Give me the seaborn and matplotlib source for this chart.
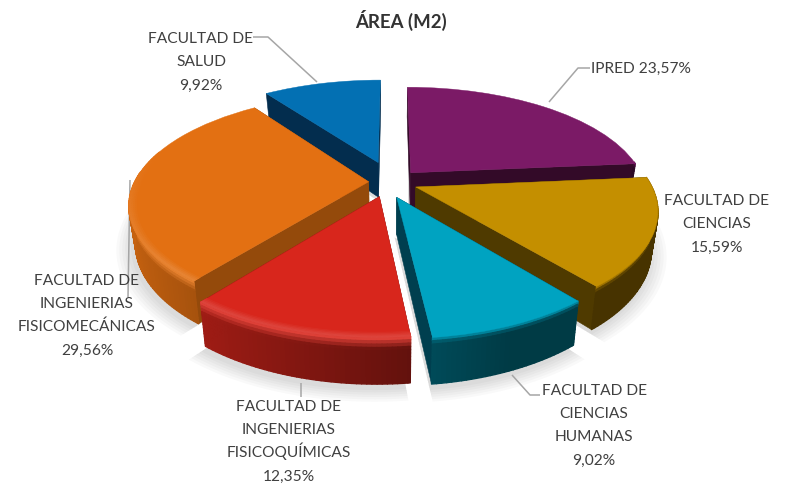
"""Área (m2) por facultad: torta 3D separada, hecha con ax.pie y una proyección en perspectiva."""
import matplotlib

matplotlib.use("Agg")
import matplotlib.pyplot as plt
import numpy as np
import seaborn as sns
from matplotlib.collections import PolyCollection
from matplotlib.patches import Polygon
from matplotlib.transforms import Transform

TITLE = "ÁREA (M2)"
NAMES = ["IPRED", "FACULTAD DE\nCIENCIAS", "FACULTAD DE\nCIENCIAS\nHUMANAS",
         "FACULTAD DE\nINGENIERIAS\nFISICOQUÍMICAS", "FACULTAD DE\nINGENIERIAS\nFISICOMECÁNICAS",
         "FACULTAD DE\nSALUD"]
VALUES = [23.57, 15.59, 9.02, 12.35, 29.56, 9.92]
TOP_COLORS = ["#7B1A66", "#C48F00", "#00A3C1", "#D8261C", "#E37012", "#0370B3"]
CUT_COLORS = ["#330A28", "#4F3A00", "#003F4F", "#7A1210", "#944A0B", "#032D4E"]
EXPLODE = [0.12, 0.12, 0.12, 0.15, 0.10, 0.20]
GLOW = [0, 0, 0, 1, 1, 0]
# ajuste fino del centro de cada porción, en el plano de la torta
NUDGE_X = [0, -0.01, -0.027, -0.012, 0, 0]
NUDGE_Y = [0, 0, -0.03, 0.01, 0, 0]

# orden de pintado: de atrás hacia adelante
PAINT_ORDER = [0, 5, 4, 1, 2, 3]

CX, CY = 392, 182
RX, KY = 234, 106
PERSP = 0.20
DEPTH = 36

sns.set_theme(style="white")
plt.rcParams["font.family"] = ["Lato", "DejaVu Sans"]


def project(x, y, t=0.0):
    """x, y en el plano de la torta, t = fracción de profundidad (0 arriba, 1 abajo)."""
    x, y = np.asarray(x, float), np.asarray(y, float)
    v = -y
    s = 1 / (1 - PERSP * v)
    return CX + RX * x * s * (1 - 0.025 * t), CY + KY * v * s + DEPTH * s * t


class PieProjection(Transform):
    input_dims = output_dims = 2
    is_affine = False

    def transform_non_affine(self, values):
        px, py = project(values[:, 0], values[:, 1])
        return np.column_stack([px, py])


def scaled(hex_color, f):
    rgb = np.array(matplotlib.colors.to_rgb(hex_color)) * f
    return np.clip(rgb, 0, 1)


def lighter(hex_color, f):
    rgb = np.array(matplotlib.colors.to_rgb(hex_color))
    return rgb + (1 - rgb) * f


def rim_factor(phi):
    return np.clip(0.5 - 0.38 * np.cos(np.radians(phi)), 0.36, 0.9)


def draw_slice(ax, wedge, top, cut, glow_on, z):
    x0, y0 = wedge.center
    phis = np.arange(wedge.theta1, wedge.theta2 + 1.0, 1.0)
    phis[-1] = wedge.theta2
    ang = np.radians(phis)
    ex, ey = x0 + np.cos(ang), y0 + np.sin(ang)

    # caras de corte
    for i in (0, -1):
        a = np.column_stack(project([x0, ex[i]], [y0, ey[i]], 0))
        b = np.column_stack(project([ex[i], x0], [ey[i], y0], 1))
        ax.add_patch(Polygon(np.vstack([a, b]), facecolor=cut, edgecolor=cut, lw=0.4, zorder=z))

    # borde exterior con degradado (solo la parte que mira al frente)
    rows = np.linspace(0, 1, 15)
    polys, cols = [], []
    for j in range(len(rows) - 1):
        for i in range(len(phis) - 1):
            if np.sin(ang[i]) > 0.1:
                continue
            p1 = project(ex[i:i + 2], ey[i:i + 2], rows[j])
            p2 = project(ex[i:i + 2][::-1], ey[i:i + 2][::-1], rows[j + 1])
            polys.append(np.column_stack([np.r_[p1[0], p2[0]], np.r_[p1[1], p2[1]]]))
            base = scaled(top, rim_factor(phis[i]))
            glow = glow_on * max(0.0, min(1.0, 0.3 - np.sin(ang[i])))
            high = lighter(top, 0.12 * glow) if glow_on else scaled(top, 0.8)
            w = min(1.0, rows[j] / (0.22 if glow_on else 0.1))
            cols.append(high * (1 - w) + base * w)
    if polys:
        ax.add_collection(PolyCollection(polys, facecolors=cols, edgecolors=cols, linewidths=1.0, zorder=z + 1))

    wedge.set_transform(PieProjection() + ax.transData)
    wedge.set_facecolor(top)
    wedge.set_edgecolor(top)
    wedge.set_linewidth(0.3)
    wedge.set_zorder(z + 2)

    # brillo del bisel sobre la cara superior
    if not glow_on:
        return
    radii = np.linspace(0.97, 1.0, 5)
    polys, cols = [], []
    for j in range(len(radii) - 1):
        for i in range(len(phis) - 1):
            glow = max(0.0, min(1.0, 0.3 - np.sin(ang[i])))
            if glow <= 0:
                continue
            c, s = np.cos(ang[i:i + 2]), np.sin(ang[i:i + 2])
            p1 = project(x0 + radii[j] * c, y0 + radii[j] * s)
            p2 = project(x0 + radii[j + 1] * c[::-1], y0 + radii[j + 1] * s[::-1])
            polys.append(np.column_stack([np.r_[p1[0], p2[0]], np.r_[p1[1], p2[1]]]))
            cols.append(lighter(top, 0.14 * glow * (j + 1) / (len(radii) - 1)))
    ax.add_collection(PolyCollection(polys, facecolors=cols, edgecolors=cols, linewidths=0.6, zorder=z + 3))


def draw_shadow(ax, wedge):
    x0, y0 = wedge.center
    phi = np.radians(np.arange(wedge.theta1, wedge.theta2 + 1.0, 2.0))
    for i in range(1, 7):
        grow = 1 + 0.012 * i
        xs = np.r_[x0, x0 + grow * np.cos(phi)]
        ys = np.r_[y0, y0 + grow * np.sin(phi)]
        px, py = project(xs, ys, 1.08)
        ax.add_patch(Polygon(np.column_stack([px - 2, py]), facecolor="#000000", alpha=0.022, lw=0, zorder=1))


fig, ax = plt.subplots(figsize=(7.87, 4.84), dpi=100)
fig.subplots_adjust(0, 0, 1, 1)
wedges, _ = ax.pie(VALUES, colors=TOP_COLORS, startangle=90, counterclock=False, explode=EXPLODE)
ax.set_aspect("auto")
ax.set_xlim(0, 787)
ax.set_ylim(484, 0)
ax.axis("off")

for w, nx, ny in zip(wedges, NUDGE_X, NUDGE_Y):
    w.set_center((w.center[0] + nx, w.center[1] + ny))
for w in wedges:
    draw_shadow(ax, w)
for rank, idx in enumerate(PAINT_ORDER):
    draw_slice(ax, wedges[idx], TOP_COLORS[idx], CUT_COLORS[idx], GLOW[idx], 10 + rank * 5)

ink = "#404040"
ax.text(401, 28, TITLE, ha="center", va="baseline", fontsize=13.4, fontweight="bold", color="#333333", zorder=50)


def pct(v):
    return f"{v:.2f}".replace(".", ",") + "%"


def label(idx, x, first_baseline, ha="center"):
    text = NAMES[idx] + (" " if idx == 0 else "\n") + pct(VALUES[idx])
    for n, line in enumerate(text.split("\n")):
        ax.text(x, first_baseline + n * 23.2, line, ha=ha, va="baseline", fontsize=11.2, color=ink, zorder=50)


label(0, 591, 73, ha="left")
label(1, 717, 205)
label(2, 594, 395)
label(3, 289, 411)
label(4, 87, 285)
label(5, 201, 43)

leaders = [([590, 578, 549], [68, 68, 102]), ([512, 530, 540], [375, 395, 395]),
           ([301, 301], [383, 397]), ([130, 128], [180, 297]), ([253, 268, 317], [37, 37, 82])]
for xs, ys in leaders:
    ax.plot(xs, ys, color="#A6A6A6", lw=1.1, zorder=9, solid_capstyle="butt")

fig.savefig("out.png", dpi=100, facecolor="white")
